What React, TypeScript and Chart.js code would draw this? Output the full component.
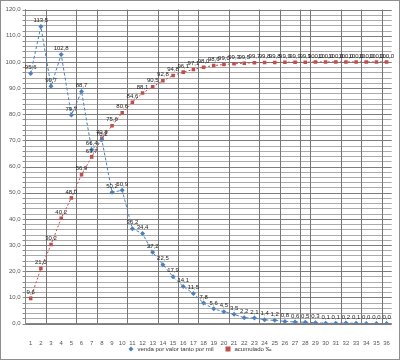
import React, { useEffect, useRef } from "react";
import { Chart, registerables } from "chart.js";

Chart.register(...registerables);

const categories = [
  "1", "2", "3", "4", "5", "6", "7", "8", "9", "10", "11", "12",
  "13", "14", "15", "16", "17", "18", "19", "20", "21", "22", "23", "24",
  "25", "26", "27", "28", "29", "30", "31", "32", "33", "34", "35", "36",
];

const salesPerMil = [
  95.6, 113.5, 90.7, 102.8, 79.7, 88.7, 66.4, 70.2, 50.2, 50.9, 36.2, 34.4,
  27.2, 22.5, 17.9, 14.1, 11.5, 7.8, 5.6, 4.5, 3.5, 2.2, 2.1, 1.4,
  1.2, 0.8, 0.6, 0.5, 0.3, 0.1, 0.1, 0.2, 0.1, 0.0, 0.0, 0.0,
];

const cumulative = [
  9.6, 21.0, 30.2, 40.2, 48.0, 56.9, 63.7, 70.8, 75.6, 80.6, 84.6, 88.1,
  90.5, 92.8, 94.8, 96.1, 97.1, 98.0, 98.6, 99.0, 99.3, 99.5, 99.7, 99.8,
  99.8, 99.9, 99.9, 99.9, 100.0, 100.0, 100.0, 100.0, 100.0, 100.0, 100.0, 100.0,
];

const seriesNames = ["venda por valor tanto por mil", "acumulado ‰"];

const Y_MIN = 0;
const Y_MAX = 120;
const Y_MINOR_STEP = 2;
const Y_MAJOR_STEP = 10;

const BLUE = "#4F81BD";
const RED = "#C0504D";
const FONT = '"Liberation Sans", Arial, sans-serif';
const visibleXGrid = [2, 5, 7, 10, 13, 15, 17, 20, 23, 25, 27, 28, 31, 33, 35];

const fmt = (v: number) => v.toFixed(1).replace(".", ",");

const gridPlugin = {
  id: "excelGrid",
  beforeDatasetsDraw(chart: any) {
    const ctx = chart.ctx;
    const { left, right, top, bottom } = chart.chartArea;
    const xs = chart.scales.x;
    const ys = chart.scales.y;
    ctx.save();
    ctx.lineWidth = 1;
    for (let v = Y_MIN; v <= Y_MAX; v += Y_MINOR_STEP) {
      const y = Math.round(ys.getPixelForValue(v)) + 0.5;
      const major = v % Y_MAJOR_STEP === 0;
      ctx.strokeStyle = major ? "#7c7c7c" : "#ababab";
      ctx.beginPath();
      ctx.moveTo(left, y);
      ctx.lineTo(right, y);
      ctx.stroke();
      ctx.strokeStyle = "#888";
      ctx.beginPath();
      ctx.moveTo(left - 3, y);
      ctx.lineTo(left, y);
      ctx.stroke();
    }
    const half = (xs.getPixelForValue(1) - xs.getPixelForValue(0)) / 2;
    ctx.strokeStyle = "#777";
    visibleXGrid.forEach((k) => {
      const x = Math.round(xs.getPixelForValue(k) - half) + 0.5;
      ctx.beginPath();
      ctx.moveTo(x, top);
      ctx.lineTo(x, bottom);
      ctx.stroke();
    });
    ctx.restore();
  },
};

const valueLabels = {
  id: "valueLabels",
  afterDatasetsDraw(chart: any) {
    const ctx = chart.ctx;
    ctx.save();
    ctx.font = `6px ${FONT}`;
    ctx.fillStyle = "#222";
    ctx.textAlign = "center";
    ctx.textBaseline = "bottom";
    chart.data.datasets.forEach((ds: any, i: number) => {
      const meta = chart.getDatasetMeta(i);
      meta.data.forEach((pt: any, j: number) => {
        ctx.fillText(fmt(ds.data[j]), pt.x, pt.y - 3);
      });
    });
    ctx.restore();
  },
};

const customLegend = {
  id: "customLegend",
  afterDraw(chart: any) {
    const ctx = chart.ctx;
    ctx.save();
    ctx.font = `6px ${FONT}`;
    ctx.textBaseline = "middle";
    ctx.textAlign = "left";
    const y = 348;
    const w0 = ctx.measureText(seriesNames[0]).width;
    const w1 = ctx.measureText(seriesNames[1]).width;
    const marker = 5, gap = 4, between = 12;
    const total = marker + gap + w0 + between + marker + gap + w1;
    let x = chart.width / 2 - total / 2;
    ctx.fillStyle = BLUE;
    ctx.beginPath();
    ctx.moveTo(x + marker / 2, y - marker / 2);
    ctx.lineTo(x + marker, y);
    ctx.lineTo(x + marker / 2, y + marker / 2);
    ctx.lineTo(x, y);
    ctx.closePath();
    ctx.fill();
    x += marker + gap;
    ctx.fillStyle = "#333";
    ctx.fillText(seriesNames[0], x, y);
    x += w0 + between;
    ctx.fillStyle = RED;
    ctx.fillRect(x, y - 2.5, 5, 5);
    x += marker + gap;
    ctx.fillStyle = "#333";
    ctx.fillText(seriesNames[1], x, y);
    ctx.restore();
  },
};

export default function App() {
  const canvasRef = useRef<HTMLCanvasElement | null>(null);

  useEffect(() => {
    if (!canvasRef.current) return;
    const chart = new Chart(canvasRef.current, {
      type: "line",
      data: {
        labels: categories,
        datasets: [
          {
            label: seriesNames[0],
            data: salesPerMil,
            borderColor: BLUE,
            backgroundColor: BLUE,
            borderWidth: 1,
            borderDash: [3, 2],
            pointStyle: "rectRot",
            pointRadius: 2.5,
            pointBorderWidth: 0,
            tension: 0,
          },
          {
            label: seriesNames[1],
            data: cumulative,
            borderColor: RED,
            backgroundColor: RED,
            borderWidth: 1,
            borderDash: [2, 2],
            pointStyle: "rect",
            pointRadius: 2.5,
            pointBorderWidth: 0,
            tension: 0,
          },
        ],
      },
      options: {
        responsive: false,
        animation: false,
        layout: { padding: { left: 0, right: 7.3, top: 5.7, bottom: 0 } },
        plugins: {
          legend: { display: false },
          tooltip: { enabled: false },
        },
        scales: {
          x: {
            offset: true,
            grid: { display: false },
            border: { color: "#888", width: 1 },
            ticks: {
              autoSkip: false,
              maxRotation: 0,
              padding: 8,
              color: "#555",
              font: { size: 6, family: FONT },
            },
            afterFit: (s: any) => {
              s.height = 35.5;
            },
          },
          y: {
            min: Y_MIN,
            max: Y_MAX,
            grid: { display: false, drawTicks: false },
            border: { color: "#888", width: 1 },
            ticks: {
              stepSize: Y_MINOR_STEP,
              autoSkip: false,
              padding: 5,
              color: "#555",
              font: { size: 6, family: FONT },
              callback: (v: any) => (Number(v) % Y_MAJOR_STEP === 0 ? fmt(Number(v)) : ""),
            },
            afterFit: (s: any) => {
              s.width = 24.6;
            },
          },
        },
      },
      plugins: [gridPlugin, valueLabels, customLegend],
    });
    return () => chart.destroy();
  }, []);

  return (
    <div
      style={{
        position: "absolute",
        left: 0,
        top: 0,
        width: 400,
        height: 360,
        boxSizing: "border-box",
        border: "1px solid #8e8e8e",
        background: "#fff",
      }}
    >
      <canvas ref={canvasRef} width={398} height={358} style={{ display: "block" }} />
    </div>
  );
}
